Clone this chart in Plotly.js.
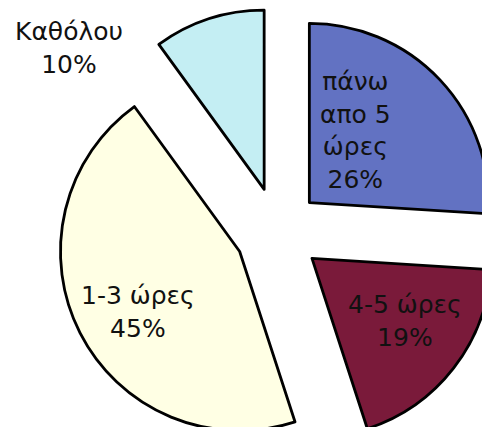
<!DOCTYPE html>
<html>
<head>
<meta charset="utf-8">
<script src="https://cdn.plot.ly/plotly-3.0.1.min.js"></script>
<style>
html, body { margin: 0; padding: 0; overflow: hidden; background: #ffffff; }
#chart { width: 520px; height: 470px; }
</style>
</head>
<body>
<div id="chart"></div>
<script>
const categories = ["πάνω απο 5 ώρες", "4-5 ώρες", "1-3 ώρες", "Καθόλου"];
const labelText = ["πάνω<br>απο 5<br>ώρες<br>26%", "4-5 ώρες<br>19%", "1-3 ώρες<br>45%", "Καθόλου<br>10%"];
const values = [26, 19, 45, 10];
const colors = ["#6272C2", "#7A1A3A", "#FFFFE4", "#C4EEF3"];

// label anchor points (pixel centres of each text block)
const labelPx = [[355, 130], [405, 321], [138, 312], [69, 48]];

const M = { l: 54, r: 18, t: 8, b: 14 };
const W = 520, H = 470;
const pw = W - M.l - M.r, ph = H - M.t - M.b;

const font = { family: "DejaVu Sans, Verdana, sans-serif", size: 25, color: "#111111" };

const trace = {
  type: "pie",
  labels: categories,
  values: values,
  textinfo: "none",
  sort: false,
  direction: "clockwise",
  rotation: 0,
  pull: [0.24, 0.24, 0.24, 0.25],
  marker: { colors: colors, line: { color: "#000000", width: 2.8 } },
  hoverinfo: "none",
  showlegend: false
};

const annotations = labelText.map((t, i) => ({
  xref: "paper", yref: "paper",
  x: (labelPx[i][0] - M.l) / pw,
  y: 1 - (labelPx[i][1] - M.t) / ph,
  xanchor: "center", yanchor: "middle",
  text: t,
  showarrow: false,
  font: font
}));

const layout = {
  width: W,
  height: H,
  margin: { l: M.l, r: M.r, t: M.t, b: M.b, pad: 0 },
  paper_bgcolor: "#ffffff",
  plot_bgcolor: "#ffffff",
  showlegend: false,
  annotations: annotations
};

Plotly.newPlot("chart", [trace], layout, { staticPlot: true, displayModeBar: false });
</script>
</body>
</html>
